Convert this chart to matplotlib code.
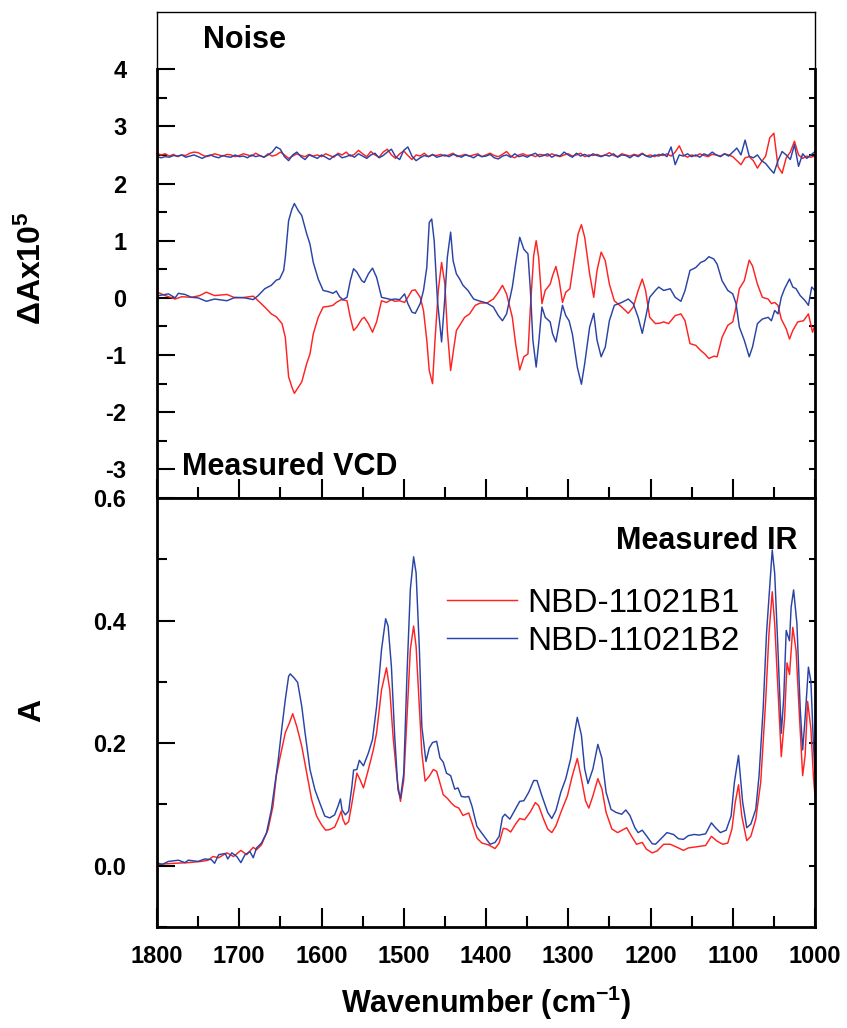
import numpy as np
import matplotlib
matplotlib.use('Agg')
import matplotlib.pyplot as plt
from matplotlib.ticker import MultipleLocator, FixedLocator, NullFormatter, NullLocator, FormatStrFormatter

plt.rcParams['font.family'] = ['Liberation Sans', 'DejaVu Sans']
plt.rcParams['font.weight'] = 'bold'
plt.rcParams['axes.unicode_minus'] = False
plt.rcParams['mathtext.fontset'] = 'custom'
plt.rcParams['mathtext.rm'] = 'Liberation Sans:bold'
plt.rcParams['mathtext.bf'] = 'Liberation Sans:bold'
plt.rcParams['mathtext.it'] = 'Liberation Sans:bold'
plt.rcParams['mathtext.default'] = 'bf'
plt.rcParams['lines.solid_joinstyle'] = 'round'

# ---------------- data ----------------
labels = ['NBD-11021B1', 'NBD-11021B2']

# Noise spectra (plotted offset at +2.5), 5 cm-1 grid from 1800 to 1000
noise_wn = np.arange(1800, 999, -5)
noise_b1 = [2.53, 2.50, 2.52, 2.48, 2.51, 2.47, 2.50, 2.49, 2.53, 2.55,
            2.54, 2.50, 2.47, 2.49, 2.52, 2.50, 2.48, 2.51, 2.50, 2.47,
            2.49, 2.52, 2.50, 2.48, 2.53, 2.49, 2.46, 2.52, 2.48, 2.50,
            2.55, 2.50, 2.44, 2.48, 2.52, 2.49, 2.47, 2.51, 2.48, 2.50,
            2.47, 2.52, 2.49, 2.46, 2.53, 2.50, 2.55, 2.48, 2.51, 2.58,
            2.52, 2.47, 2.56, 2.50, 2.46, 2.55, 2.60, 2.50, 2.44, 2.52,
            2.57, 2.49, 2.42, 2.50, 2.48, 2.53, 2.47, 2.50, 2.49, 2.51,
            2.48, 2.50, 2.53, 2.47, 2.49, 2.51, 2.48, 2.50, 2.52, 2.47,
            2.50, 2.53, 2.49, 2.47, 2.51, 2.56, 2.48, 2.45, 2.50, 2.52,
            2.49, 2.50, 2.47, 2.51, 2.50, 2.48, 2.52, 2.49, 2.47, 2.50,
            2.52, 2.48, 2.50, 2.53, 2.47, 2.50, 2.49, 2.51, 2.48, 2.50,
            2.54, 2.49, 2.47, 2.52, 2.50, 2.48, 2.51, 2.49, 2.53, 2.48,
            2.50, 2.47, 2.51, 2.49, 2.52, 2.48, 2.55, 2.66, 2.50, 2.46,
            2.50, 2.48, 2.52, 2.49, 2.47, 2.51, 2.50, 2.48, 2.52, 2.50,
            2.47, 2.40, 2.33, 2.45, 2.47, 2.40, 2.27, 2.38, 2.48, 2.80,
            2.88, 2.30, 2.18, 2.45, 2.55, 2.74, 2.50, 2.44, 2.48, 2.46,
            2.48]
noise_b2 = [2.47, 2.45, 2.47, 2.46, 2.49, 2.48, 2.50, 2.46, 2.48, 2.50,
            2.47, 2.44, 2.48, 2.50, 2.47, 2.45, 2.49, 2.47, 2.46, 2.50,
            2.47, 2.48, 2.45, 2.50, 2.47, 2.49, 2.46, 2.50, 2.55, 2.64,
            2.60, 2.47, 2.40, 2.50, 2.55, 2.47, 2.42, 2.50, 2.47, 2.44,
            2.50, 2.46, 2.42, 2.48, 2.51, 2.45, 2.47, 2.50, 2.46, 2.52,
            2.48, 2.44, 2.50, 2.53, 2.45, 2.49, 2.55, 2.60, 2.47, 2.42,
            2.58, 2.64, 2.48, 2.40, 2.45, 2.49, 2.47, 2.51, 2.46, 2.48,
            2.50, 2.47, 2.51, 2.49, 2.46, 2.50, 2.48, 2.45, 2.50, 2.47,
            2.48, 2.51, 2.45, 2.43, 2.48, 2.50, 2.46, 2.52, 2.47, 2.49,
            2.46, 2.50, 2.53, 2.47, 2.49, 2.52, 2.46, 2.50, 2.48, 2.55,
            2.50, 2.46, 2.53, 2.48, 2.51, 2.47, 2.52, 2.49, 2.47, 2.50,
            2.48, 2.52, 2.46, 2.50, 2.49, 2.45, 2.50, 2.47, 2.52, 2.48,
            2.46, 2.50, 2.48, 2.52, 2.47, 2.64, 2.33, 2.50, 2.48, 2.52,
            2.47, 2.50, 2.46, 2.52, 2.49, 2.55, 2.50, 2.47, 2.52, 2.48,
            2.55, 2.62, 2.50, 2.76, 2.48, 2.45, 2.50, 2.40, 2.35, 2.26,
            2.18, 2.40, 2.56, 2.50, 2.42, 2.68, 2.30, 2.52, 2.44, 2.50,
            2.56]

# Measured VCD (dA x 1e5)
vcd_b1_wn = [1798, 1790, 1778, 1770, 1758, 1748, 1740, 1730, 1715, 1705,
             1693, 1683, 1677, 1669, 1661, 1655, 1648, 1644, 1640, 1636,
             1633, 1628, 1624, 1618, 1614, 1610, 1604, 1598, 1592, 1586,
             1582, 1576, 1569, 1565, 1561, 1557, 1551, 1548, 1543, 1538,
             1533, 1527, 1521, 1515, 1511, 1505, 1499, 1495, 1490, 1486,
             1480, 1476, 1472, 1469, 1465, 1462, 1458, 1454, 1450, 1447,
             1443, 1439, 1436, 1432, 1426, 1420, 1413, 1407,
             1399, 1391, 1385, 1380, 1375, 1368, 1364, 1359, 1354, 1349,
             1346, 1342, 1339, 1336, 1332, 1328, 1322, 1319, 1315, 1311,
             1307, 1303, 1298, 1293, 1288, 1284, 1280, 1274, 1269, 1265,
             1260, 1255, 1250, 1244, 1235, 1227, 1221, 1215, 1210, 1206,
             1201, 1194, 1188, 1184, 1178, 1170, 1163, 1158, 1152, 1145,
             1139, 1134, 1129, 1123, 1119, 1113, 1106, 1100, 1096, 1092,
             1086, 1080, 1076, 1070, 1064, 1057, 1053, 1049, 1045, 1041,
             1035, 1031, 1027, 1021, 1014, 1008, 1003, 1000]
vcd_b1 = [0.09, 0.04, -0.02, 0.02, 0.01, 0.04, 0.10, 0.04, 0.06, 0.00,
          0.01, 0.03, -0.05, -0.16, -0.28, -0.33, -0.45, -0.69, -1.38, -1.56,
          -1.67, -1.56, -1.47, -1.15, -0.98, -0.63, -0.34, -0.16, -0.15, -0.13,
          -0.08, -0.03, -0.05, -0.34, -0.57, -0.51, -0.37, -0.34, -0.45, -0.60,
          -0.42, -0.05, -0.08, -0.03, -0.06, -0.05, -0.08, 0.01, 0.13, 0.14,
          0.01, -0.22, -0.74, -1.27, -1.50, -0.74, 0.13, 0.62, 0.24, -0.57,
          -1.27, -0.86, -0.57, -0.48, -0.34, -0.28, -0.13, -0.09,
          -0.09, -0.02, 0.10, 0.22, 0.07, -0.34, -0.80, -1.26, -1.03, -0.98,
          -0.16, 0.74, 1.00, 0.71, -0.10, 0.13, 0.24, 0.39, 0.55, 0.30,
          -0.08, 0.10, 0.16, 0.65, 1.12, 1.28, 1.06, 0.42, 0.01, 0.48,
          0.80, 0.65, 0.24, -0.05, -0.16, -0.27, -0.16, 0.13, 0.33, 0.13,
          -0.34, -0.45, -0.44, -0.42, -0.45, -0.31, -0.28, -0.40, -0.80, -0.83,
          -0.92, -0.98, -1.06, -1.02, -1.03, -0.69, -0.48, -0.42, -0.16, 0.16,
          0.30, 0.66, 0.56, 0.24, 0.01, -0.02, -0.10, -0.08, -0.13, -0.37,
          -0.54, -0.72, -0.57, -0.42, -0.40, -0.28, -0.60, -0.48]

vcd_b2_wn = [1798, 1786, 1778, 1774, 1766, 1758, 1750, 1740, 1730, 1715,
             1705, 1693, 1683, 1677, 1669, 1661, 1655, 1651, 1646, 1644,
             1640, 1636, 1633, 1628, 1624, 1618, 1614, 1610, 1604, 1598,
             1592, 1586, 1582, 1578, 1574, 1569, 1565, 1561, 1557, 1551,
             1548, 1543, 1538, 1533, 1527, 1521, 1515, 1511, 1505, 1499,
             1495, 1490, 1486, 1480, 1476, 1472, 1469, 1466, 1463, 1459,
             1454, 1450, 1447, 1443, 1440, 1436, 1432, 1428, 1422, 1415,
             1409,
             1399, 1391, 1385, 1380, 1375, 1368, 1364, 1359, 1354, 1349,
             1346, 1343, 1339, 1336, 1332, 1328, 1322, 1319, 1315, 1311,
             1307, 1303, 1299, 1295, 1289, 1284, 1280, 1274, 1269, 1265,
             1260, 1255, 1250, 1244, 1235, 1227, 1221, 1215, 1210, 1205,
             1201, 1194, 1190, 1184, 1176, 1170, 1163, 1158, 1152, 1145,
             1139, 1134, 1129, 1123, 1119, 1113, 1106, 1100, 1096, 1092,
             1086, 1080, 1076, 1070, 1064, 1057, 1053, 1049, 1045, 1041,
             1037, 1031, 1027, 1023, 1018, 1012, 1008, 1004, 1000]
vcd_b2 = [0.04, 0.07, 0.00, 0.08, 0.06, 0.01, 0.00, -0.06, -0.02, -0.05,
          0.01, 0.00, -0.03, 0.04, 0.16, 0.22, 0.31, 0.33, 0.48, 0.71,
          1.35, 1.55, 1.65, 1.52, 1.44, 1.12, 0.94, 0.62, 0.33, 0.13,
          0.11, 0.08, 0.12, 0.02, -0.03, 0.01, 0.30, 0.51, 0.45, 0.30,
          0.27, 0.42, 0.52, 0.36, 0.01, -0.01, -0.03, -0.02, -0.03, 0.07,
          -0.10, -0.25, -0.27, -0.10, 0.13, 0.53, 1.32, 1.38, 1.00, -0.05,
          -0.77, 0.01, 0.71, 1.15, 0.65, 0.42, 0.33, 0.22, 0.13, -0.02,
          -0.05,
          -0.09, -0.16, -0.31, -0.40, -0.28, 0.19, 0.59, 1.06, 0.85, 0.77,
          0.13, -0.74, -1.21, -0.80, -0.16, -0.34, -0.42, -0.63, -0.77, -0.45,
          -0.13, -0.31, -0.40, -0.63, -1.21, -1.51, -1.15, -0.51, -0.27, -0.74,
          -1.03, -0.86, -0.40, -0.13, -0.08, -0.02, -0.10, -0.34, -0.62, -0.28,
          0.01, 0.13, 0.19, 0.13, 0.16, 0.01, -0.06, 0.13, 0.48, 0.53,
          0.62, 0.65, 0.72, 0.68, 0.59, 0.30, 0.13, 0.07, -0.10, -0.51,
          -0.74, -1.03, -0.86, -0.45, -0.37, -0.34, -0.40, -0.22, -0.28, 0.01,
          0.16, 0.33, 0.19, 0.16, 0.04, -0.05, -0.13, 0.19, 0.13]

# Measured IR absorbance
ir_b1_wn = [1800, 1790, 1778, 1762, 1746, 1738, 1732, 1725, 1715, 1707,
            1698, 1691, 1683, 1679, 1673, 1665, 1659, 1655, 1651, 1644,
            1639, 1635, 1630, 1624, 1618, 1612, 1606, 1600, 1595, 1590,
            1584, 1580, 1576, 1574, 1571, 1567, 1563, 1557, 1553, 1549,
            1543, 1537, 1533, 1527, 1521, 1517, 1513, 1508, 1504, 1500,
            1496, 1492, 1488, 1485, 1481, 1478, 1474, 1469, 1464, 1460,
            1456, 1452, 1447, 1442, 1438, 1433, 1428, 1421, 1417, 1411,
            1405, 1397, 1389, 1384, 1379, 1375, 1370, 1364, 1359, 1353,
            1346, 1340, 1336, 1330, 1325, 1320, 1315, 1309, 1301, 1295,
            1289, 1284, 1279, 1275, 1270, 1264, 1259, 1254, 1247, 1240,
            1233, 1229, 1223, 1217, 1210, 1205, 1198, 1192, 1184, 1176,
            1166, 1160, 1154, 1143, 1133, 1126, 1119, 1112, 1106, 1101,
            1097, 1093, 1089, 1083, 1078, 1072, 1066, 1060, 1056, 1052,
            1049, 1045, 1041, 1037, 1034, 1031, 1027, 1023, 1019, 1015,
            1012, 1009, 1005, 1002, 1000]
ir_b1 = [0.002, 0.003, 0.004, 0.005, 0.007, 0.009, 0.015, 0.013, 0.021, 0.015,
         0.025, 0.018, 0.030, 0.026, 0.034, 0.059, 0.097, 0.146, 0.173, 0.217,
         0.233, 0.248, 0.227, 0.195, 0.151, 0.108, 0.081, 0.067, 0.058, 0.059,
         0.063, 0.075, 0.089, 0.076, 0.067, 0.072, 0.102, 0.151, 0.140, 0.127,
         0.157, 0.189, 0.217, 0.287, 0.323, 0.287, 0.211, 0.140, 0.105, 0.140,
         0.244, 0.353, 0.391, 0.358, 0.260, 0.184, 0.138, 0.146, 0.157, 0.154,
         0.135, 0.116, 0.110, 0.102, 0.097, 0.094, 0.082, 0.086, 0.070, 0.045,
         0.037, 0.034, 0.028, 0.037, 0.061, 0.060, 0.055, 0.068, 0.077, 0.075,
         0.088, 0.103, 0.098, 0.076, 0.060, 0.054, 0.065, 0.087, 0.114, 0.147,
         0.175, 0.142, 0.106, 0.094, 0.114, 0.142, 0.125, 0.087, 0.060, 0.054,
         0.059, 0.062, 0.048, 0.035, 0.038, 0.027, 0.021, 0.024, 0.035, 0.035,
         0.029, 0.025, 0.029, 0.031, 0.033, 0.048, 0.040, 0.035, 0.037, 0.060,
         0.103, 0.132, 0.081, 0.041, 0.048, 0.076, 0.136, 0.268, 0.378, 0.447,
         0.395, 0.285, 0.178, 0.241, 0.331, 0.312, 0.389, 0.351, 0.246, 0.147,
         0.180, 0.268, 0.224, 0.147, 0.114]

ir_b2_wn = [1800, 1794, 1786, 1774, 1766, 1762, 1750, 1742, 1734, 1730,
            1725, 1717, 1714, 1709, 1703, 1698, 1693, 1687, 1683, 1679,
            1673, 1667, 1661, 1657, 1653, 1648, 1644, 1640, 1638, 1633,
            1629, 1624, 1620, 1614, 1608, 1602, 1596, 1590, 1584, 1580,
            1577, 1575, 1571, 1567, 1563, 1561, 1557, 1554, 1549, 1543,
            1538, 1533, 1527, 1522, 1519, 1515, 1511, 1507, 1504, 1500,
            1496, 1492, 1488, 1485, 1481, 1478, 1473, 1469, 1465, 1460,
            1456, 1452, 1448, 1443, 1438, 1434, 1430, 1425, 1421, 1417,
            1411, 1405, 1395, 1389, 1384, 1380, 1377, 1371, 1366, 1359,
            1354, 1348, 1342, 1338, 1332, 1325, 1320, 1315, 1309, 1303,
            1297, 1292, 1289, 1284, 1280, 1276, 1270, 1264, 1259, 1254,
            1248, 1242, 1235, 1230, 1225, 1219, 1215, 1210, 1205, 1198,
            1194, 1188, 1180, 1172, 1166, 1160, 1154, 1147, 1141, 1133,
            1126, 1121, 1115, 1108, 1102, 1098, 1093, 1088, 1083, 1078,
            1072, 1068, 1063, 1059, 1054, 1052, 1049, 1045, 1041, 1038,
            1035, 1031, 1029, 1026, 1022, 1018, 1015, 1012, 1008, 1005,
            1002, 1000]
ir_b2 = [0.005, 0.002, 0.007, 0.009, 0.005, 0.009, 0.007, 0.011, 0.010, 0.004,
         0.018, 0.020, 0.011, 0.021, 0.015, 0.005, 0.018, 0.023, 0.013, 0.029,
         0.037, 0.053, 0.091, 0.130, 0.168, 0.227, 0.271, 0.309, 0.313, 0.306,
         0.299, 0.260, 0.217, 0.157, 0.124, 0.102, 0.081, 0.078, 0.083, 0.097,
         0.109, 0.091, 0.083, 0.089, 0.130, 0.156, 0.157, 0.172, 0.163, 0.184,
         0.206, 0.260, 0.353, 0.403, 0.391, 0.325, 0.211, 0.124, 0.110, 0.151,
         0.315, 0.451, 0.504, 0.478, 0.353, 0.227, 0.170, 0.192, 0.201, 0.203,
         0.176, 0.169, 0.151, 0.147, 0.125, 0.127, 0.113, 0.112, 0.113, 0.097,
         0.064, 0.053, 0.035, 0.038, 0.048, 0.079, 0.084, 0.076, 0.088, 0.105,
         0.106, 0.120, 0.139, 0.139, 0.114, 0.087, 0.077, 0.090, 0.120, 0.142,
         0.175, 0.219, 0.242, 0.213, 0.158, 0.134, 0.158, 0.198, 0.175, 0.120,
         0.092, 0.087, 0.084, 0.091, 0.082, 0.062, 0.054, 0.058, 0.049, 0.036,
         0.035, 0.043, 0.054, 0.051, 0.044, 0.043, 0.049, 0.051, 0.050, 0.052,
         0.070, 0.062, 0.054, 0.058, 0.081, 0.136, 0.180, 0.104, 0.062, 0.068,
         0.092, 0.147, 0.257, 0.378, 0.477, 0.515, 0.477, 0.351, 0.216, 0.274,
         0.384, 0.367, 0.422, 0.450, 0.395, 0.257, 0.189, 0.241, 0.324, 0.301,
         0.202, 0.150]

vcd_yticks = [-3, -2, -1, 0, 1, 2, 3, 4]
ir_yticks = [0.0, 0.2, 0.4, 0.6]
x_ticks = [1800, 1700, 1600, 1500, 1400, 1300, 1200, 1100, 1000]

# ---------------- style ----------------
RED = '#ff2222'
BLUE = '#2a44a6'
LW = 1.05
W, H = 847, 1028
L, R = 157, 815
T1, B1, B2 = 12, 498, 927

fig = plt.figure(figsize=(W / 100, H / 100), dpi=100)
ax1 = fig.add_axes([L / W, 1 - B1 / H, (R - L) / W, (B1 - T1) / H])
ax2 = fig.add_axes([L / W, 1 - B2 / H, (R - L) / W, (B2 - B1) / H], sharex=ax1)

# top panel
ax1.plot(noise_wn, noise_b1, color=RED, lw=LW)
ax1.plot(noise_wn, noise_b2, color=BLUE, lw=LW)
ax1.plot(vcd_b1_wn, vcd_b1, color=RED, lw=LW)
ax1.plot(vcd_b2_wn, vcd_b2, color=BLUE, lw=LW)
ax1.set_ylim(-3.5, 5.0)
ax1.yaxis.set_major_locator(FixedLocator(vcd_yticks))
ax1.yaxis.set_minor_locator(FixedLocator([-2.5, -1.5, -0.5, 0.5, 1.5, 2.5, 3.5]))
ax1.yaxis.set_major_formatter(FormatStrFormatter('%d'))

# bottom panel
l1, = ax2.plot(ir_b1_wn, ir_b1, color=RED, lw=LW)
l2, = ax2.plot(ir_b2_wn, ir_b2, color=BLUE, lw=LW)
ax2.set_ylim(-0.1, 0.6)
ax2.yaxis.set_major_locator(FixedLocator(ir_yticks))
ax2.yaxis.set_minor_locator(FixedLocator([-0.1, 0.1, 0.3, 0.5]))
ax2.yaxis.set_major_formatter(FormatStrFormatter('%.1f'))

ax2.set_xlim(1800, 1000)
ax2.xaxis.set_major_locator(FixedLocator(x_ticks))
ax2.xaxis.set_minor_locator(MultipleLocator(50))
ax2.xaxis.set_major_formatter(FormatStrFormatter('%d'))

SPW = 2.0
for ax in (ax1, ax2):
    ax.tick_params(axis='x', which='major', direction='in', length=14, width=1.5,
                   top=False, bottom=True, labelsize=17, pad=13)
    ax.tick_params(axis='x', which='minor', direction='in', length=8, width=1.5,
                   top=False, bottom=True)
    ax.tick_params(axis='y', which='major', direction='in', length=13, width=1.5,
                   right=False, left=True, labelsize=17, pad=22)
    ax.tick_params(axis='y', which='minor', direction='in', length=7, width=1.5,
                   right=False, left=True)
    for s in ax.spines.values():
        s.set_linewidth(SPW)
ax1.tick_params(axis='x', which='both', labelbottom=False)

# thin frame above y=4 in the top panel
ax1.spines['top'].set_linewidth(1.0)
ax1.spines['left'].set_bounds(-3.5, 4)
ax1.spines['right'].set_bounds(-3.5, 4)
frac = (4 - (-3.5)) / (5.0 - (-3.5))
ax1.axvline(1800, ymin=frac, ymax=1, color='k', lw=1.0, clip_on=False)
ax1.axvline(1000, ymin=frac, ymax=1, color='k', lw=1.0, clip_on=False)

# short right-side ticks
for ax, ticks in ((ax1, np.arange(-3.0, 4.01, 0.5)), (ax2, [0.0, 0.1, 0.2, 0.3, 0.4, 0.5])):
    sec = ax.secondary_yaxis('right')
    sec.yaxis.set_major_locator(FixedLocator(list(ticks)))
    sec.yaxis.set_minor_locator(NullLocator())
    sec.yaxis.set_major_formatter(NullFormatter())
    sec.tick_params(axis='y', direction='in', length=4, width=1.5)
    sec.spines['right'].set_visible(False)

# panel annotations
ax1.text(0.070, 0.942, 'Noise', transform=ax1.transAxes, fontsize=22,
         fontweight='bold', ha='left', va='center')
ax1.text(0.038, 0.064, 'Measured VCD', transform=ax1.transAxes, fontsize=22,
         fontweight='bold', ha='left', va='center')
ax2.text(0.973, 0.900, 'Measured IR', transform=ax2.transAxes, fontsize=22,
         fontweight='bold', ha='right', va='center')

ax2.legend([l1, l2], labels, loc='upper left', bbox_to_anchor=(0.441, 0.79),
           frameon=False, prop={'size': 24, 'weight': 'normal'},
           handlelength=2.1, handletextpad=0.3, labelspacing=0.2,
           borderaxespad=0, borderpad=0)

fig.text(32 / W, 1 - 268 / H, 'ΔAx10$^5$', rotation=90, fontsize=23,
         fontweight='bold', ha='center', va='center')
fig.text(32 / W, 1 - 710 / H, 'A', rotation=90, fontsize=23,
         fontweight='bold', ha='center', va='center')
fig.text((L + R) / 2 / W, 1 - 1003 / H, 'Wavenumber (cm$^{-1}$)', fontsize=22,
         fontweight='bold', ha='center', va='center')

fig.savefig('out.png', dpi=100)
